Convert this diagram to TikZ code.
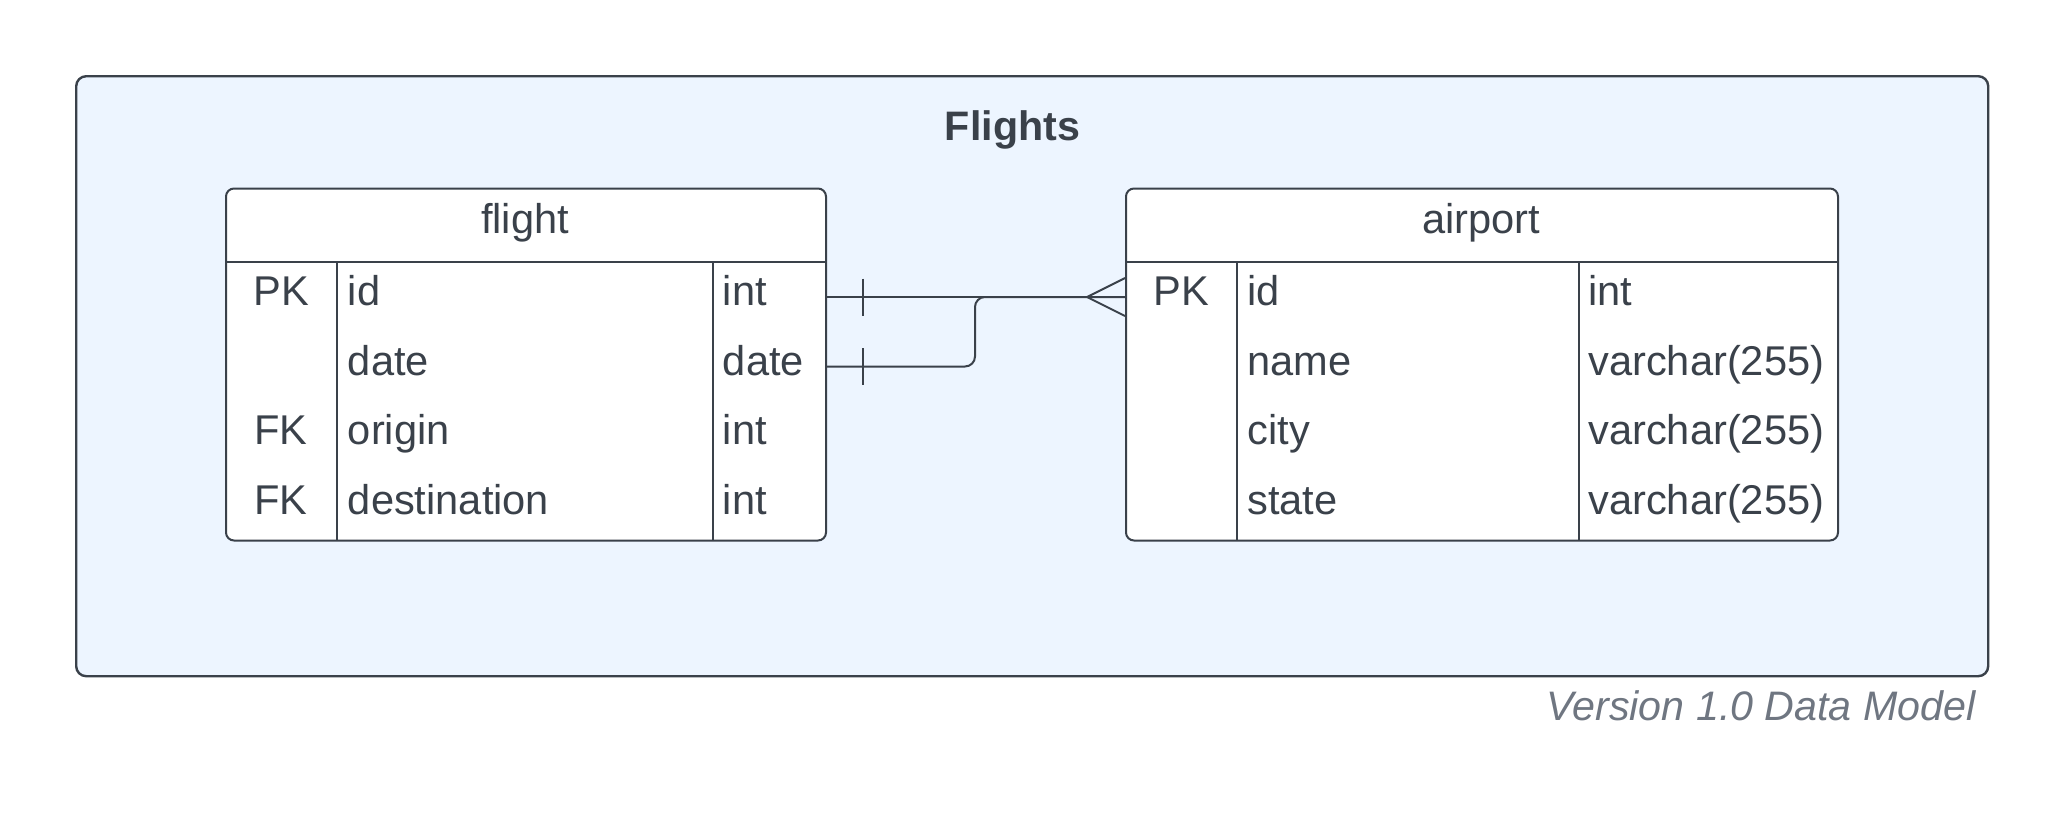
\documentclass[tikz,border=0pt]{standalone}
\usepackage{fontspec}
\setmainfont{Liberation Sans}
\usetikzlibrary{calc}
\definecolor{ink}{HTML}{3A414A}
\definecolor{paleblue}{HTML}{EDF5FF}
\definecolor{notegray}{HTML}{6F7681}
\newcommand\erfont{\fontsize{20.8pt}{24pt}\selectfont}

\begin{document}
\begin{tikzpicture}[x=0.5pt,y=-0.5pt,
    frame/.style={draw=ink, fill=paleblue, line width=1.2pt, rounded corners=5pt, inner sep=0pt, anchor=north west},
    tbl/.style={draw=ink, fill=white, line width=1pt, rounded corners=4pt, inner sep=0pt, anchor=north west},
    txt/.style={text=ink, font=\erfont, inner sep=0pt, anchor=base west},
    key/.style={txt, anchor=base},
    link/.style={draw=ink, line width=1pt}]
  \useasboundingbox (0,0) rectangle (2063,825);
  % frame
  \node[frame, minimum width=956pt, minimum height=300pt] (model) at (75,75) {};
  \node[key, font=\fontsize{20.6pt}{24pt}\selectfont\bfseries] (title) at (1012.5,140.7) {Flights};
  \node[txt, anchor=base east, text=notegray, font=\fontsize{20.6pt}{24pt}\selectfont\itshape] (version) at (1976,720) {Version 1.0 Data Model};

  % flight table
  \node[tbl, minimum width=300pt, minimum height=176pt] (flight) at (225,187.5) {};
  \node[key] (flight-head) at (525,233.3) {flight};
  \draw[link] (225,262.3) -- (825,262.3);
  \draw[link] (337.3,262.3) -- (337.3,539.5);
  \draw[link] (712.7,262.3) -- (712.7,539.5);
  \foreach \k/\n/\t [count=\i] in {PK/id/int, /date/date, FK/origin/int, FK/destination/int} {
    \node[key] (flight-key-\i) at (281,236+69.5*\i) {\k};
    \node[txt] (flight-name-\i) at (347.5,236+69.5*\i) {\n};
    \node[txt] (flight-type-\i) at (722.5,236+69.5*\i) {\t};
  }

  % airport table
  \node[tbl, minimum width=356pt, minimum height=176pt] (airport) at (1125,187.5) {};
  \node[key] (airport-head) at (1481,233.3) {airport};
  \draw[link] (1125,262.3) -- (1837,262.3);
  \draw[link] (1237.3,262.3) -- (1237.3,539.5);
  \draw[link] (1579.3,262.3) -- (1579.3,539.5);
  \foreach \k/\n/\t [count=\i] in {PK/id/int, /name/varchar(255), /city/varchar(255), /state/varchar(255)} {
    \node[key] (airport-key-\i) at (1181,236+69.5*\i) {\k};
    \node[txt] (airport-name-\i) at (1247,236+69.5*\i) {\n};
    \node[txt] (airport-type-\i) at (1588,236+69.5*\i) {\t};
  }

  % relations
  \coordinate (flight-id) at (825,297);
  \coordinate (flight-date) at (825,366.5);
  \coordinate (airport-id) at (1125,297);
  \draw[link] (flight-id) -- (airport-id);
  \draw[link, rounded corners=5pt] (flight-date) -| ($(flight-id)!.5!(airport-id)$) -- (airport-id);
  \draw[link] ([xshift=19pt]flight-id) ++(0,-18.5) -- ++(0,37);
  \draw[link] ([xshift=19pt]flight-date) ++(0,-18.5) -- ++(0,37);
  \draw[link] ([yshift=9.5pt]airport-id) -- ([xshift=-19pt]airport-id) -- ([yshift=-9.5pt]airport-id);
\end{tikzpicture}
\end{document}
